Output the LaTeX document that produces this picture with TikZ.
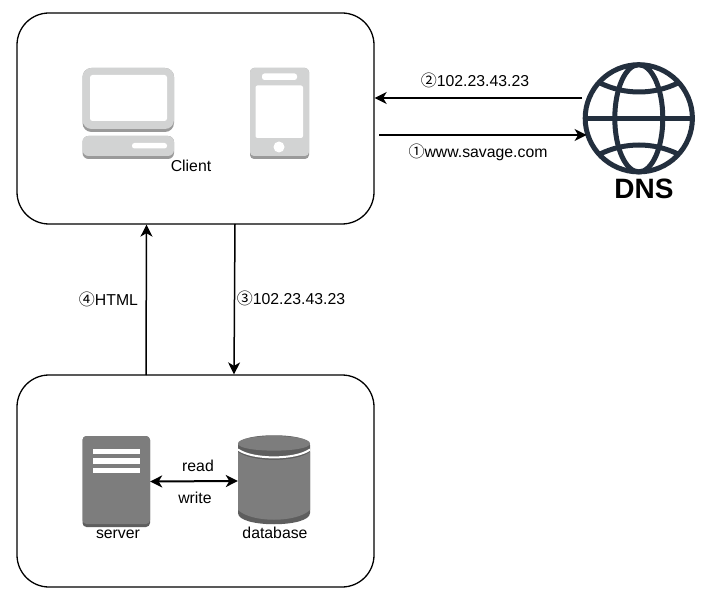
\documentclass[tikz,border=0pt]{standalone}
\usepackage{fontspec}
\setmainfont{Liberation Sans}
\newfontfamily\circfont{Noto Sans CJK SC}
\usetikzlibrary{arrows.meta,calc}
\newcommand{\circd}[1]{{\fontsize{16}{16}\selectfont\circfont #1}}
\definecolor{iconlight}{HTML}{D2D3D3}
\definecolor{iconshade}{HTML}{9A9A9A}
\definecolor{srvgray}{HTML}{7D7D7D}
\definecolor{srvdark}{HTML}{5E5E5E}
\definecolor{globecol}{HTML}{232F3E}
\tikzset{
  panel/.style={draw=black,line width=1.3pt,rounded corners=32pt,fill=white,inner sep=0pt},
  conn/.style={draw=black,line width=1.5pt,-{Stealth[length=12pt,width=12pt,inset=3.5pt]}},
  biconn/.style={draw=black,line width=2pt,{Stealth[length=12pt,width=12pt,inset=3.5pt]}-{Stealth[length=12pt,width=12pt,inset=3.5pt]}},
  lbl/.style={font=\fontsize{15.8}{18}\selectfont,inner sep=0pt,text=black},
  globeline/.style={draw=globecol,line width=5pt}
}
\begin{document}
\begin{tikzpicture}[x=1pt,y=-1pt]
\useasboundingbox (0,0) rectangle (704,593);
\fill[white] (0,0) rectangle (704,593);
\node[panel,minimum width=357pt,minimum height=211pt] (client) at (195.5,118.5) {};
\node[panel,minimum width=357pt,minimum height=212pt] (backend) at (195.5,481) {};
% desktop
\fill[iconshade,rounded corners=9pt] (82.5,68) rectangle (174,132);
\fill[iconlight,rounded corners=9pt] (82.5,68) rectangle (174,129);
\fill[white,rounded corners=2.5pt] (90,75) rectangle (167,121);
\fill[iconshade,rounded corners=6pt] (82.5,136) rectangle (174,159);
\fill[iconlight,rounded corners=6pt] (82.5,136) rectangle (174,156);
\fill[white,rounded corners=2.5pt] (132,143) rectangle (167,148.5);
% phone
\fill[iconshade,rounded corners=4pt] (250,68) rectangle (309,159);
\fill[iconlight,rounded corners=4pt] (250,68) rectangle (309,156);
\fill[white,rounded corners=2.5pt] (262,73.5) rectangle (297,80);
\fill[white,rounded corners=2pt] (255.5,85.5) rectangle (303,138);
\fill[white] (279,147) circle[radius=5.5pt];
\node[lbl] (clientlbl) at (191,166) {Client};
% globe
\node[circle,minimum size=112pt,inner sep=0pt] (globe) at (638.8,118.3) {};
\draw[globeline] (globe.center) circle[radius=53.6pt];
\draw[globeline] (globe.center) ellipse[x radius=24pt,y radius=53.6pt];
\draw[globeline] (586,118.3) -- (692,118.3);
\draw[globeline] (600,83) .. controls (625,95) and (653,95) .. (678,83);
\draw[globeline] (600,154) .. controls (625,142) and (653,142) .. (678,154);
\node[font=\bfseries\fontsize{28}{30}\selectfont,inner sep=0pt] (dnslbl) at (644,189) {DNS};
% server
\node[rectangle,fill=srvdark,rounded corners=4pt,minimum width=67.5pt,minimum height=91pt,inner sep=0pt] (server) at (116.25,481.5) {};
\fill[srvgray,rounded corners=4pt] (82.5,436) rectangle (150,524);
\fill[white] (93,449.3) rectangle (140,454.3);
\fill[white] (93,458.3) rectangle (140,463.7);
\fill[white] (93,467.7) rectangle (140,473);
\node[lbl] (serverlbl) at (118,534) {server};
% database
\node[rectangle,minimum width=72pt,minimum height=88pt,inner sep=0pt] (db) at (274,481) {};
\fill[srvdark] (238,445) .. controls (238,432) and (310,432) .. (310,445) -- (310,513) .. controls (310,528) and (238,528) .. (238,513) -- cycle;
\fill[srvgray] (238,443.5) .. controls (238,433.5) and (310,433.5) .. (310,443.5) .. controls (310,453) and (238,453) .. (238,443.5) -- cycle;
\fill[srvgray] (238,452) .. controls (252,462.5) and (296,462.5) .. (310,452) -- (310,510) .. controls (296,523) and (252,523) .. (238,510) -- cycle;
\draw[white,line width=2pt] (238,449.5) .. controls (252,460) and (296,460) .. (310,449.5);
\node[lbl] (dblbl) at (275,533) {database};
% connectors
\coordinate (r2) at (582,98);
\coordinate (r1) at (379,135);
\coordinate (u4) at (146,375);
\coordinate (d3) at (235,224);
\draw[conn] (r2) -- (r2 -| client.east);
\draw[conn] (r1) -- ($(r1 -| globe.west)+(4,0)$);
\draw[conn] (u4) -- ($(u4 |- client.south)+(0.5,0)$);
\draw[conn] (d3) -- ($(d3 |- backend.north)+(-1,0)$);
\draw[biconn] (server.east) -- (db.west);
% labels
\node[lbl] (l2) at (475,80) {\circd{②}102.23.43.23};
\node[lbl] (l1) at (478,152) {\circd{①}www.savage.com};
\node[lbl] (l4) at (108.5,299) {\circd{④}HTML};
\node[lbl] (l3) at (291,298) {\circd{③}102.23.43.23};
\node[lbl] (lread) at (198,466) {read};
\node[lbl] (lwrite) at (195,498) {write};
\end{tikzpicture}
\end{document}
